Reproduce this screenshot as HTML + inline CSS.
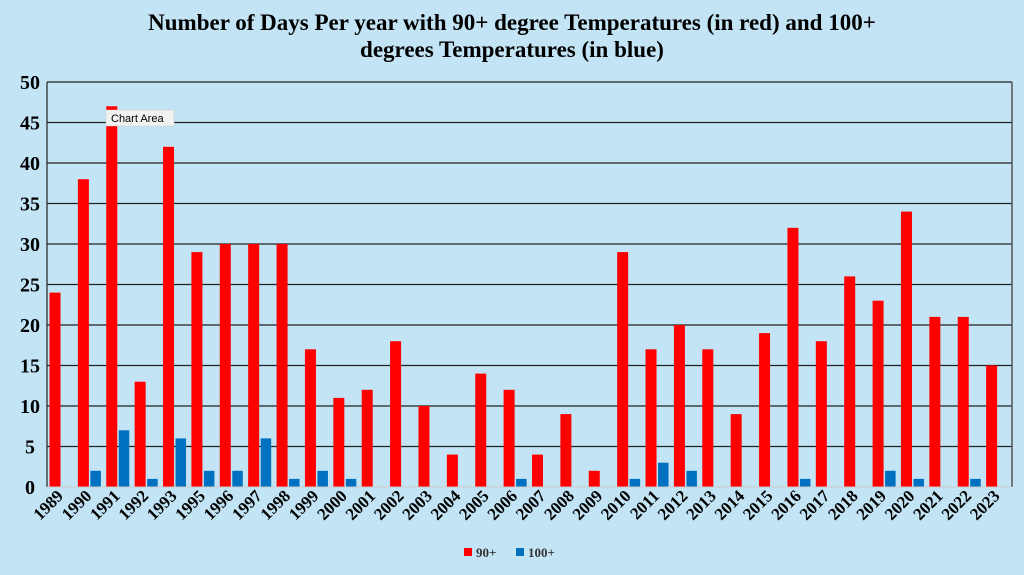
<!DOCTYPE html><html><head><style>body{margin:0;background:#c2e4f4}</style></head><body>
<svg id="s" width="1024" height="570" xmlns="http://www.w3.org/2000/svg" font-family="Liberation Serif, serif">
<rect width="1024" height="570" fill="#c2e4f4"/>
<text x="512" y="30" text-anchor="middle" font-size="23" font-weight="bold">Number of Days Per year with 90+ degree Temperatures (in red) and 100+</text>
<text x="512" y="57" text-anchor="middle" font-size="23" font-weight="bold">degrees Temperatures (in blue)</text>
<g id="g"></g>
<rect x="464" y="548" width="8" height="8" fill="#f00"/><text x="476" y="557" font-size="13" font-weight="bold" fill="#333">90+</text>
<rect x="516" y="548" width="8" height="8" fill="#0070c0"/><text x="528" y="557" font-size="13" font-weight="bold" fill="#333">100+</text>
<g>
<rect x="106" y="110" width="68" height="16" fill="#f2f2f2" stroke="#ccc" stroke-width="0.5"/>
<text x="111" y="122" font-family="Liberation Sans, sans-serif" font-size="11">Chart Area</text></g>
</svg>
<script>
var y=[1989,1990,1991,1992,1993];for(var i=1995;i<=2023;i++)y.push(i);
var r=[24,38,47,13,42,29,30,30,30,17,11,12,18,10,4,14,12,4,9,2,29,17,20,17,9,19,32,18,26,23,34,21,21,15];
var b={1990:2,1991:7,1992:1,1993:6,1995:2,1996:2,1997:6,1998:1,1999:2,2000:1,2006:1,2010:1,2011:3,2012:2,2016:1,2019:2,2020:1,2022:1};
var L=47,R=1012,T=82,B=487,u=(B-T)/50,w=(R-L)/34,s='';
for(var k=0;k<=10;k++){var yy=B-k*5*u;if(k>0)s+='<line x1="'+L+'" x2="'+R+'" y1="'+yy+'" y2="'+yy+'" stroke="#222" stroke-width="1.2"/>';
s+='<text x="30" y="'+(yy+7)+'" text-anchor="middle" font-size="20" font-weight="bold">'+(k*5)+'</text>';}
for(var i=0;i<34;i++){var x=L+i*w;s+='<rect x="'+(x+2.5)+'" y="'+(B-r[i]*u)+'" width="11" height="'+(r[i]*u)+'" fill="#f00"/>';
if(b[y[i]])s+='<rect x="'+(x+15)+'" y="'+(B-b[y[i]]*u)+'" width="10.5" height="'+(b[y[i]]*u)+'" fill="#0070c0"/>';
var cx=x+w/2+3,cy=497;s+='<text transform="translate('+cx+','+cy+') rotate(-45)" text-anchor="end" font-size="17" font-weight="bold">'+y[i]+'</text>';}
s+='<line x1="'+L+'" x2="'+L+'" y1="'+T+'" y2="'+B+'" stroke="#222" stroke-width="1.2"/><line x1="'+R+'" x2="'+R+'" y1="'+T+'" y2="'+B+'" stroke="#555" stroke-width="1.5"/><line x1="'+L+'" x2="'+R+'" y1="'+B+'" y2="'+B+'" stroke="#ccc"/>';
document.getElementById('g').innerHTML=s;
</script></body></html>
